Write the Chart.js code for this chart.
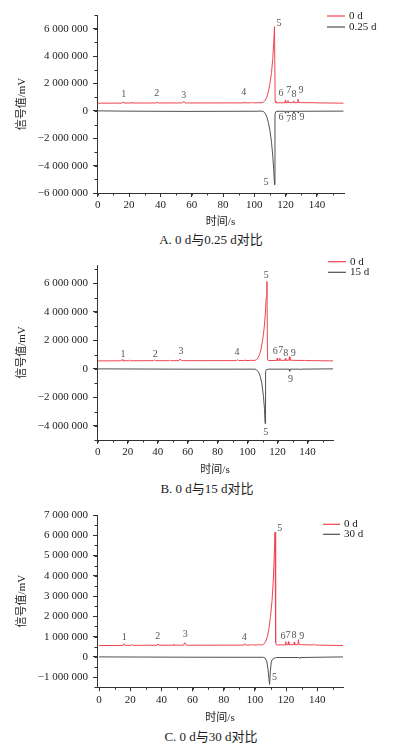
<!DOCTYPE html>
<html>
<head>
<meta charset="utf-8">
<script src="https://cdn.jsdelivr.net/npm/chart.js@4"></script>
<style>
    body { margin: 0; background: #fff; width: 398px; height: 746px; position: relative; overflow: hidden;
           font-family: "Liberation Serif", "Noto Sans CJK SC", serif; }
    .painel { position: absolute; left: 0; width: 398px; }
    .painel canvas { display: block; }
    .legenda-fig { position: absolute; left: 0; width: 398px; text-align: center; font-size: 13px;
                   line-height: 16px; color: #222; }
</style>
</head>
<body>
<div class="painel" style="top:0px"><canvas id="graficoA" width="398" height="232"></canvas></div>
<div class="legenda-fig" style="top:232px; left:12px">A. 0 d与0.25 d对比</div>
<div class="painel" style="top:250px"><canvas id="graficoB" width="398" height="230"></canvas></div>
<div class="legenda-fig" style="top:481px; left:8px">B. 0 d与15 d对比</div>
<div class="painel" style="top:500px"><canvas id="graficoC" width="398" height="228"></canvas></div>
<div class="legenda-fig" style="top:729px; left:12px">C. 0 d与30 d对比</div>

<script>
// -------------------------------
// Dados
// -------------------------------
// 0 d (vermelho, igual nos três painéis)
const tempo0d = [0, 15.5, 16.2, 16.8, 20.8, 21.3, 21.8, 37.3, 37.9, 38.5, 47.5, 48.0, 48.5, 54.2, 55.0, 55.8, 57,
    92.8, 93.4, 94.0, 97.8, 98.3, 98.8, 101.8, 102.3, 102.8, 105, 106, 107, 108, 109, 110, 111, 111.8, 112.4, 112.9,
    113.3, 113.8, 119.5, 119.8, 120.1, 121.2, 121.5, 121.8, 124.9, 125.2, 125.5, 127.6, 127.9, 128.3, 130,
    137.8, 138.2, 138.6, 157];
const sinal0d = [560000, 565000, 650000, 570000, 570000, 610000, 570000, 575000, 640000, 575000, 575000, 630000, 575000,
    580000, 700000, 590000, 575000, 580000, 650000, 585000, 585000, 630000, 585000, 590000, 620000, 590000,
    600000, 650000, 780000, 1000000, 1400000, 2000000, 2800000, 3800000, 5000000, 6150000,
    700000, 590000, 590000, 750000, 600000, 600000, 750000, 600000, 600000, 730000, 600000, 600000, 850000, 610000, 600000,
    590000, 620000, 585000, 560000];

// 0.25 d
const tempo025d = [0, 16.2, 55.0, 93.4, 98.0, 105, 106, 107, 108, 109, 110, 111, 111.8, 112.4, 112.9, 113.2, 113.6, 114.5,
    119.6, 119.9, 120.2, 121.3, 121.6, 121.9, 125.0, 125.3, 125.6, 127.7, 128.0, 128.3, 157];
const sinal025d = [0, -20000, -40000, -30000, -30000, -20000, -60000, -200000, -450000, -850000, -1450000, -2300000,
    -3300000, -4300000, -5400000, -300000, -80000, -30000,
    -30000, -170000, -30000, -30000, -150000, -30000, -30000, -150000, -30000, -30000, -160000, -30000, -20000];

// 15 d
const tempo15d = [0, 55.0, 93.4, 105, 106, 107, 107.7, 108.5, 109.5, 110.6, 111.3, 111.7, 112.0, 112.5, 114,
    127.7, 128.1, 128.5, 134.8, 135.2, 135.6, 157];
const sinal15d = [0, -20000, -20000, -20000, -70000, -180000, -300000, -550000, -1000000, -1940000, -2870000, -3850000,
    -200000, -60000, -20000, -20000, -170000, -20000, -20000, -60000, -20000, 0];

// 30 d
const tempo30d = [0, 55.0, 105.5, 106.6, 107.5, 108.3, 108.9, 109.4, 109.9, 110.5, 111.2, 112.5, 114,
    128.1, 128.5, 128.9, 157];
const sinal30d = [0, -15000, -20000, -60000, -200000, -550000, -1000000, -1360000, -700000, -250000, -120000, -60000,
    -30000, -30000, -70000, -30000, 0];

// Eixos
const ticksX = [0, 20, 40, 60, 80, 100, 120, 140];
const ticksYA = [-6000000, -4000000, -2000000, 0, 2000000, 4000000, 6000000];
const ticksYB = [-4000000, -2000000, 0, 2000000, 4000000, 6000000];
const ticksYC = [-1000000, 0, 1000000, 2000000, 3000000, 4000000, 5000000, 6000000, 7000000];

// Rótulos dos picos: texto, tempo, sinal
const picosTextoA = ['1', '2', '3', '4', '5', '6', '7', '8', '9', '6', '7', '8', '9', '5'];
const picosTempoA = [16.6, 37.7, 55.0, 93.3, 115.7, 117.0, 122.0, 125.3, 129.8, 117.0, 122.0, 125.3, 130.4, 107.4];
const picosSinalA = [1170000, 1240000, 1130000, 1320000, 6360000, 1240000, 1460000, 1170000, 1460000,
    -510000, -620000, -510000, -510000, -5200000];

const picosTextoB = ['1', '2', '3', '4', '5', '6', '7', '8', '9', '9', '5'];
const picosTempoB = [16.9, 38.4, 55.5, 92.9, 112.4, 118.4, 122.2, 125.5, 130.4, 128.7, 112.2];
const picosSinalB = [1030000, 1050000, 1260000, 1190000, 6580000, 1260000, 1330000, 1120000, 1120000, -720000, -4430000];

const picosTextoC = ['1', '2', '3', '4', '5', '6', '7', '8', '9', '5'];
const picosTempoC = [16.2, 37.6, 55.3, 93.1, 116.0, 118.0, 121.2, 125.0, 130.1, 112.6];
const picosSinalC = [980000, 1000000, 1110000, 980000, 6320000, 1000000, 1050000, 1050000, 1000000, -1030000];

// -------------------------------
// Estilos / helpers
// -------------------------------
const FONTE = '"Liberation Serif", "Noto Sans CJK SC", serif';
const VERMELHO = '#ee4552';
const CINZA = '#505050';
const EIXO = '#333333';

function formatNum(v) {
    const s = Math.abs(v).toString().replace(/\B(?=(\d{3})+(?!\d))/g, ' ');
    return (v < 0 ? '\u2212' : '') + s;
}

function pontos(tempos, sinais) {
    return tempos.map((t, i) => ({ x: t, y: sinais[i] }));
}

// ticks menores (mais curtos que os principais)
const pluginTicksMenores = {
    id: 'ticksMenores',
    afterDraw(chart, args, opts) {
        const ctx = chart.ctx;
        const sx = chart.scales.x, sy = chart.scales.y;
        ctx.save();
        ctx.strokeStyle = EIXO;
        ctx.lineWidth = 1;
        ctx.beginPath();
        for (let v = 0; v <= sx.max; v += opts.passoX) {
            const px = Math.round(sx.getPixelForValue(v)) + 0.5;
            ctx.moveTo(px, sx.top);
            ctx.lineTo(px, sx.top + 2.5);
        }
        for (let v = Math.ceil(sy.min / opts.passoY) * opts.passoY; v <= sy.max; v += opts.passoY) {
            const py = Math.round(sy.getPixelForValue(v)) + 0.5;
            ctx.moveTo(sy.right, py);
            ctx.lineTo(sy.right - 2.5, py);
        }
        ctx.stroke();
        ctx.restore();
    }
};

const pluginRotulos = {
    id: 'rotulosPicos',
    afterDatasetsDraw(chart, args, opts) {
        const ctx = chart.ctx;
        const sx = chart.scales.x, sy = chart.scales.y;
        ctx.save();
        ctx.font = '10px ' + FONTE;
        ctx.fillStyle = '#555';
        ctx.textAlign = 'center';
        ctx.textBaseline = 'middle';
        opts.texto.forEach((t, i) => {
            ctx.fillText(t, sx.getPixelForValue(opts.tempo[i]), sy.getPixelForValue(opts.sinal[i]));
        });
        ctx.restore();
    }
};

const pluginLegenda = {
    id: 'legendaLinhas',
    afterDraw(chart, args, opts) {
        const ctx = chart.ctx;
        ctx.save();
        ctx.font = '11px ' + FONTE;
        ctx.textBaseline = 'middle';
        ctx.fillStyle = '#222';
        chart.data.datasets.forEach((ds, i) => {
            const yy = opts.y + i * opts.gap;
            ctx.strokeStyle = ds.borderColor;
            ctx.lineWidth = 1.2;
            ctx.beginPath();
            ctx.moveTo(opts.x, yy);
            ctx.lineTo(opts.x + opts.comp, yy);
            ctx.stroke();
            ctx.fillText(ds.label, opts.x + opts.comp + 4, yy);
        });
        ctx.restore();
    }
};

// -------------------------------
// Monta um painel
// -------------------------------
function criarGrafico(id, cfg) {
    const escalaX = {
        type: 'linear', min: cfg.xMin, max: cfg.xMax,
        afterBuildTicks: s => { s.ticks = ticksX.map(v => ({ value: v })); },
        afterFit: s => { s.height = cfg.alturaX; },
        border: { display: true, color: EIXO, width: 1 },
        grid: { drawOnChartArea: false, drawTicks: true, tickLength: 4, tickColor: EIXO },
        ticks: { color: '#222', font: { family: FONTE, size: 11 }, padding: 2, maxRotation: 0 },
        title: { display: true, text: '时间/s', color: '#222', font: { family: FONTE, size: 11 },
                 padding: { top: 0, bottom: 3 } }
    };
    const escalaY = {
        type: 'linear', min: cfg.yMin, max: cfg.yMax,
        afterBuildTicks: s => { s.ticks = cfg.ticksY.map(v => ({ value: v })); },
        afterFit: s => { s.width = 97; },
        border: { display: true, color: EIXO, width: 1 },
        grid: { drawOnChartArea: false, drawTicks: true, tickLength: 4, tickColor: EIXO },
        ticks: { color: '#222', font: { family: FONTE, size: 11 }, padding: 5, callback: v => formatNum(v) },
        title: { display: true, text: '信号值/mV', color: '#222', font: { family: FONTE, size: 11 },
                 padding: { top: 16, bottom: 0 } }
    };

    return new Chart(document.getElementById(id), {
        type: 'line',
        data: {
            datasets: [
                { label: '0 d', data: pontos(tempo0d, sinal0d), borderColor: VERMELHO, borderWidth: 1,
                  pointRadius: 0, tension: 0 },
                { label: cfg.rotulo, data: pontos(cfg.tempos, cfg.sinais), borderColor: CINZA, borderWidth: 1,
                  pointRadius: 0, tension: 0 }
            ]
        },
        options: {
            responsive: false,
            animation: false,
            layout: { padding: { top: 15, right: cfg.dir, bottom: 0, left: 0 } },
            scales: { x: escalaX, y: escalaY },
            plugins: {
                legend: { display: false },
                tooltip: { enabled: false },
                ticksMenores: { passoX: 10, passoY: cfg.passoY },
                rotulosPicos: { texto: cfg.picosTexto, tempo: cfg.picosTempo, sinal: cfg.picosSinal },
                legendaLinhas: cfg.legenda
            }
        },
        plugins: [pluginTicksMenores, pluginRotulos, pluginLegenda]
    });
}

criarGrafico('graficoA', {
    rotulo: '0.25 d', tempos: tempo025d, sinais: sinal025d,
    xMin: -0.5, xMax: 157.3, yMin: -6000000, yMax: 7000000, ticksY: ticksYA, passoY: 1000000,
    alturaX: 39, dir: 54,
    picosTexto: picosTextoA, picosTempo: picosTempoA, picosSinal: picosSinalA,
    legenda: { x: 327, y: 16, gap: 11, comp: 18 }
});

criarGrafico('graficoB', {
    rotulo: '15 d', tempos: tempo15d, sinais: sinal15d,
    xMin: -0.5, xMax: 157, yMin: -5000000, yMax: 7300000, ticksY: ticksYB, passoY: 1000000,
    alturaX: 40, dir: 65,
    picosTexto: picosTextoB, picosTempo: picosTempoB, picosSinal: picosSinalB,
    legenda: { x: 328, y: 11.7, gap: 10.6, comp: 18 }
});

criarGrafico('graficoC', {
    rotulo: '30 d', tempos: tempo30d, sinais: sinal30d,
    xMin: -1.3, xMax: 156.5, yMin: -1500000, yMax: 7000000, ticksY: ticksYC, passoY: 500000,
    alturaX: 40.7, dir: 55,
    picosTexto: picosTextoC, picosTempo: picosTempoC, picosSinal: picosSinalC,
    legenda: { x: 323, y: 24.3, gap: 10, comp: 17 }
});
</script>
</body>
</html>
